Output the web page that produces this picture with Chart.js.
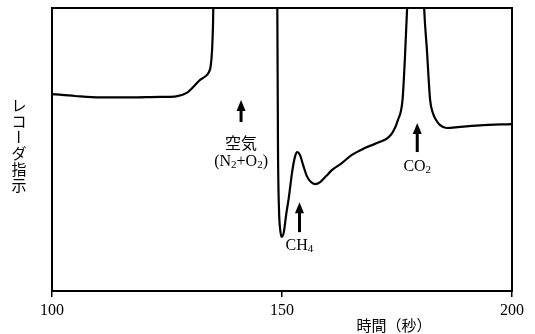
<!DOCTYPE html>
<html lang="ja">
<head>
  <meta charset="UTF-8" />
  <title>レコーダ指示</title>
  <script src="https://cdn.jsdelivr.net/npm/chart.js"></script>
  <style>
    html, body { margin: 0; padding: 0; background: #fff; }
    #wrap { width: 535px; height: 334px; position: relative; }
  </style>
</head>
<body>
  <div id="wrap"><canvas id="chart" width="535" height="334"></canvas></div>

  <script>
    // time (s) and recorder reading (arbitrary units, 0-100 = plot height)
    const timeSec = [
      100, 105, 110.4, 117, 123.5, 126.7, 129.3, 130.7, 132.2, 133.3, 134.0, 134.5, 134.8, 135.0, 135.1,
      135.3, 148.8,
      148.98, 149.13, 149.35, 149.57, 149.93, 150.4, 150.9, 151.5, 152.2, 152.8, 153.3, 153.9, 154.6,
      155.4, 156.3, 157.2, 158.3, 159.6, 160.9, 163.0, 165.2, 168.0, 171.3, 173.0, 174.1, 175.2, 176.2,
      176.7, 177.2, 177.4, 180.7, 180.9, 181.5, 182.2, 182.8, 183.5, 184.3, 185.8, 188.7, 193.0, 200
    ];
    const signal = [
      69.6, 68.9, 68.4, 68.4, 68.6, 68.7, 70.0, 72.1, 74.6, 75.8, 77.0, 79.5, 85.2, 94.0, 102.8,
      110, 110,
      100, 49.8, 28.6, 22.3, 19.1, 20.8, 26.9, 33.2, 42.0, 47.3, 49.1, 48.1, 44.5,
      40.6, 38.5, 37.8, 38.5, 40.6, 42.8, 45.2, 48.1, 50.5, 52.7, 54.1, 56.2, 60.4, 67.5,
      81.6, 100, 110, 110, 100, 85.2, 67.5, 62.9, 60.4, 58.7, 57.6, 58.0, 58.5, 59.0
    ];
    const xTicks = [100, 150, 200];

    // peak markers: arrow at time x from yFrom (tail) to yTo (tip), label lines below
    const peakNames = [
      { x: 141.1, yFrom: 59.7, yTo: 67.5, lines: [{ t: '空気', y: 52.3, jp: true }, { t: '(N|2|+O|2|)', y: 45.6 }] },
      { x: 153.8, yFrom: 20.8, yTo: 31.4, lines: [{ t: 'CH|4|', y: 15.9 }] },
      { x: 179.4, yFrom: 49.1, yTo: 59.4, lines: [{ t: 'CO|2|', y: 43.8 }] }
    ];

    const serif = '"Liberation Serif", "Times New Roman", serif';
    const gothic = '"Noto Sans CJK JP", sans-serif';

    // text with subscripts: parts between | are drawn small and lowered
    function subText(ctx, str, cx, cy, size) {
      const parts = str.split('|');
      const big = size + 'px ' + serif, small = Math.round(size * 0.68) + 'px ' + serif;
      let w = 0;
      parts.forEach((p, i) => { ctx.font = i % 2 ? small : big; w += ctx.measureText(p).width; });
      let x = cx - w / 2;
      ctx.textAlign = 'left';
      parts.forEach((p, i) => {
        ctx.font = i % 2 ? small : big;
        ctx.fillText(p, x, i % 2 ? cy + size * 0.22 : cy);
        x += ctx.measureText(p).width;
      });
    }

    const decorations = {
      id: 'decorations',
      afterDraw(chart) {
        const { ctx, chartArea: a, scales } = chart;
        const xs = scales.x, ys = scales.y;
        ctx.save();
        // frame
        ctx.strokeStyle = '#000';
        ctx.lineWidth = 2;
        ctx.strokeRect(a.left, a.top, a.right - a.left, a.bottom - a.top);

        ctx.fillStyle = '#000';
        ctx.textBaseline = 'middle';
        peakNames.forEach(p => {
          const px = xs.getPixelForValue(p.x);
          const y0 = ys.getPixelForValue(p.yFrom), y1 = ys.getPixelForValue(p.yTo);
          ctx.lineWidth = 3;
          ctx.beginPath();
          ctx.moveTo(px, y0);
          ctx.lineTo(px, y1 + 8);
          ctx.stroke();
          ctx.beginPath();
          ctx.moveTo(px, y1);
          ctx.lineTo(px - 4.5, y1 + 11);
          ctx.lineTo(px + 4.5, y1 + 11);
          ctx.closePath();
          ctx.fill();
          p.lines.forEach(l => {
            const ly = ys.getPixelForValue(l.y);
            if (l.jp) {
              ctx.font = '16px ' + gothic;
              ctx.textAlign = 'center';
              ctx.fillText(l.t, px, ly);
            } else {
              subText(ctx, l.t, px, ly, 16);
            }
          });
        });

        // axis titles
        ctx.font = '15px ' + gothic;
        ctx.textAlign = 'center';
        ctx.fillText('時間（秒）', 394, 325);
        // vertical title, one character per line; the long-vowel mark turned upright
        const yTitle = 'レコーダ指示';
        for (let i = 0; i < yTitle.length; i++) {
          const cy = 105 + i * 16;
          if (yTitle[i] === 'ー') {
            ctx.save();
            ctx.translate(19, cy);
            ctx.rotate(Math.PI / 2);
            ctx.fillText(yTitle[i], 0, 0);
            ctx.restore();
          } else {
            ctx.fillText(yTitle[i], 19, cy);
          }
        }
        ctx.restore();
      }
    };

    new Chart(document.getElementById('chart'), {
      type: 'line',
      data: {
        datasets: [{
          data: timeSec.map((t, i) => ({ x: t, y: signal[i] })),
          borderColor: '#000',
          borderWidth: 2.2,
          pointRadius: 0,
          cubicInterpolationMode: 'monotone',
          fill: false,
          clip: 0
        }]
      },
      options: {
        responsive: false,
        animation: false,
        layout: { padding: { top: 8, right: 23, left: 0, bottom: 0 } },
        plugins: { legend: { display: false }, tooltip: { enabled: false } },
        scales: {
          x: {
            type: 'linear',
            min: 100,
            max: 200,
            afterBuildTicks: s => { s.ticks = xTicks.map(v => ({ value: v })); },
            afterFit: s => { s.height = 43; },
            grid: { drawOnChartArea: false, drawTicks: true, tickLength: 6, color: '#000', lineWidth: 1.5 },
            border: { display: true, color: '#000', width: 2 },
            ticks: { color: '#000', padding: 4, font: { family: serif, size: 16 } }
          },
          y: {
            min: 0,
            max: 100,
            afterFit: s => { s.width = 52; },
            grid: { display: false },
            border: { display: true, color: '#000', width: 2 },
            ticks: { display: false }
          }
        }
      },
      plugins: [decorations]
    });
  </script>
</body>
</html>
